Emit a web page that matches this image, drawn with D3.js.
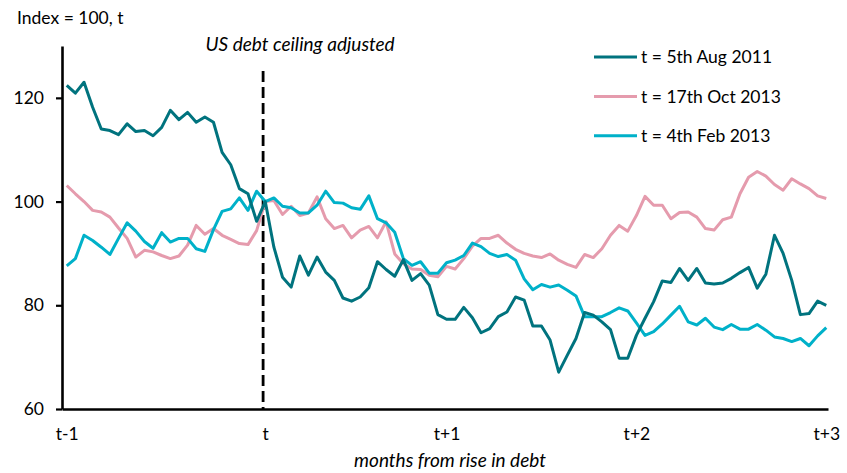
<!DOCTYPE html>
<html>
<head>
<meta charset="utf-8">
<script src="https://cdn.jsdelivr.net/npm/d3@7"></script>
<style>
body { margin: 0; background: #fff; }
svg { font-family: Lato, "Open Sans", sans-serif; }
.axis path, .axis line { stroke: #000; }
.axis text { fill: #000; font-size: 17.5px; font-family: Lato, sans-serif; }
</style>
</head>
<body>
<div id="chart"></div>
<script>
var width = 847,
	height = 473;

// series, one value per trading day, t is day 23
var aug2011 = [122.4, 120.9, 123.0, 118.2, 114.0, 113.7, 112.9, 115.0, 113.5, 113.7, 112.7, 114.3, 117.6, 115.8, 117.2, 115.3, 116.3, 115.3, 109.5, 107.1, 102.5, 101.5, 96.2, 100,
	91.2, 85.4, 83.5, 89.5, 85.8, 89.3, 86.4, 84.8, 81.4, 80.8, 81.6, 83.4, 88.4, 86.9, 85.6, 88.8, 84.8, 86.1, 83.9, 78.2, 77.3, 77.3, 79.6, 77.6, 74.7, 75.5, 77.8, 78.7, 81.6, 81.0, 76.0, 76.0, 73.3,
	67.1, 70.4, 73.6, 78.6, 78.1, 76.8, 75.3, 69.8, 69.8, 74.2, 77.5, 80.7, 84.7, 84.4, 87.1, 84.8, 87.1, 84.3, 84.1, 84.3, 85.2, 86.3, 87.3, 83.3, 86.0, 93.5, 90.0, 84.8, 78.2, 78.4, 80.8, 80.0];

var oct2013 = [103.1, 101.5, 100.0, 98.3, 98.0, 97.0, 94.9, 92.9, 89.3, 90.6, 90.3, 89.6, 89.0, 89.5, 91.6, 95.4, 93.7, 94.8, 93.5, 92.7, 91.9, 91.7, 94.4, 100,
	100.2, 97.5, 99.1, 97.3, 97.8, 100.9, 96.7, 94.8, 95.4, 93.0, 94.5, 95.2, 93.0, 96.1, 89.9, 88.0, 87.0, 86.9, 85.8, 85.5, 87.5, 87.0, 89.0, 91.4, 92.9, 92.9, 93.5, 92.0, 90.8, 90.0, 89.5, 89.2, 89.9,
	88.7, 87.9, 87.3, 89.8, 89.2, 90.9, 93.5, 95.4, 94.3, 97.3, 101.0, 99.3, 99.3, 96.7, 97.9, 98.0, 97.0, 94.8, 94.5, 96.5, 97.0, 101.5, 104.7, 105.8, 104.9, 103.3, 102.2, 104.4, 103.4, 102.5, 101.1, 100.6];

var feb2013 = [87.6, 89.0, 93.5, 92.5, 91.2, 89.8, 92.9, 95.9, 94.3, 92.3, 91.0, 94.0, 92.2, 92.9, 92.9, 90.9, 90.4, 94.6, 98.1, 98.6, 100.7, 98.3, 102.0, 100,
	100.7, 99.1, 98.8, 97.8, 97.8, 99.3, 102.0, 99.8, 99.7, 98.8, 98.5, 101.1, 96.7, 95.9, 94.1, 89.0, 87.7, 88.4, 86.2, 86.2, 88.2, 88.7, 89.6, 92.0, 91.3, 90.0, 89.4, 89.8, 88.7, 85.1, 83.0, 84.0, 83.5,
	83.9, 82.9, 81.8, 77.8, 77.8, 77.8, 78.6, 79.5, 78.9, 76.6, 74.2, 74.9, 76.4, 78.1, 79.8, 76.8, 76.2, 77.5, 75.8, 75.3, 76.3, 75.4, 75.4, 76.3, 75.2, 73.9, 73.6, 73.0, 73.6, 72.2, 74.1, 75.7];

var seriesNames = ["t = 5th Aug 2011", "t = 17th Oct 2013", "t = 4th Feb 2013"];
var seriesColors = ["#00737e", "#e59bad", "#00b1c9"];

var tickDays = [0, 23, 44, 66, 88];
var tickLabels = ["t-1", "t", "t+1", "t+2", "t+3"];
var yTicks = [60, 80, 100, 120];

var eventDay = 22.75,
	eventLabel = "US debt ceiling adjusted";

var svg = d3.select("#chart").append("svg")
	.attr("width", width)
	.attr("height", height);

var x = d3.scaleLinear()
	.domain([-0.55, 88.2])
	.range([62, 828]);

var y = d3.scaleLinear()
	.domain([60, 130])
	.range([409, 46]);

/* axes */

var yAxis = svg.append("g")
	.attr("class", "axis axis--y")
	.attr("transform", "translate(62,0)")
	.call(d3.axisLeft(y).tickValues(yTicks).tickSize(6).tickSizeOuter(0).tickPadding(12));
yAxis.select(".domain").attr("stroke-width", 2.6);
yAxis.selectAll(".tick line").attr("stroke-width", 2.2);

var xAxis = svg.append("g")
	.attr("class", "axis axis--x")
	.attr("transform", "translate(0,409)")
	.call(d3.axisBottom(x).tickValues(tickDays).tickSize(0).tickSizeOuter(0).tickPadding(19)
		.tickFormat(function(d, i) { return tickLabels[i]; }));
xAxis.select(".domain").attr("stroke-width", 2.6);

/* event line */

svg.append("line")
	.attr("x1", x(eventDay))
	.attr("x2", x(eventDay))
	.attr("y1", y(125.2))
	.attr("y2", y(60))
	.attr("stroke", "#000")
	.attr("stroke-width", 2.8)
	.attr("stroke-dasharray", "11,5");

svg.append("text")
	.attr("x", x(eventDay) + 37)
	.attr("y", 51)
	.attr("text-anchor", "middle")
	.style("font-style", "italic")
	.style("font-size", "19px")
	.text(eventLabel);

/* lines */

var line = d3.line()
	.x(function(d, i) { return x(i); })
	.y(function(d) { return y(d); });

var allSeries = [aug2011, oct2013, feb2013];

// draw order: pink under, then cyan, dark teal on top
[1, 2, 0].forEach(function(k) {
	svg.append("path")
		.datum(allSeries[k])
		.attr("fill", "none")
		.attr("stroke", seriesColors[k])
		.attr("stroke-width", 3)
		.attr("stroke-linejoin", "round")
		.attr("d", line);
});

/* legend */

var legend = svg.append("g")
	.attr("transform", "translate(594,57)");

seriesNames.forEach(function(name, i) {
	var row = legend.append("g").attr("transform", "translate(0," + (i * 39.4) + ")");
	row.append("line")
		.attr("x1", 0).attr("x2", 43)
		.attr("stroke", seriesColors[i])
		.attr("stroke-width", 3);
	row.append("text")
		.attr("x", 47)
		.attr("dy", "0.35em")
		.style("font-size", "17.5px")
		.text(name);
});

/* titles */

svg.append("text")
	.attr("x", 17)
	.attr("y", 24)
	.style("font-size", "17.5px")
	.text("Index = 100, t");

svg.append("text")
	.attr("x", 450)
	.attr("y", 467)
	.attr("text-anchor", "middle")
	.style("font-style", "italic")
	.style("font-size", "19px")
	.text("months from rise in debt");
</script>
</body>
</html>
